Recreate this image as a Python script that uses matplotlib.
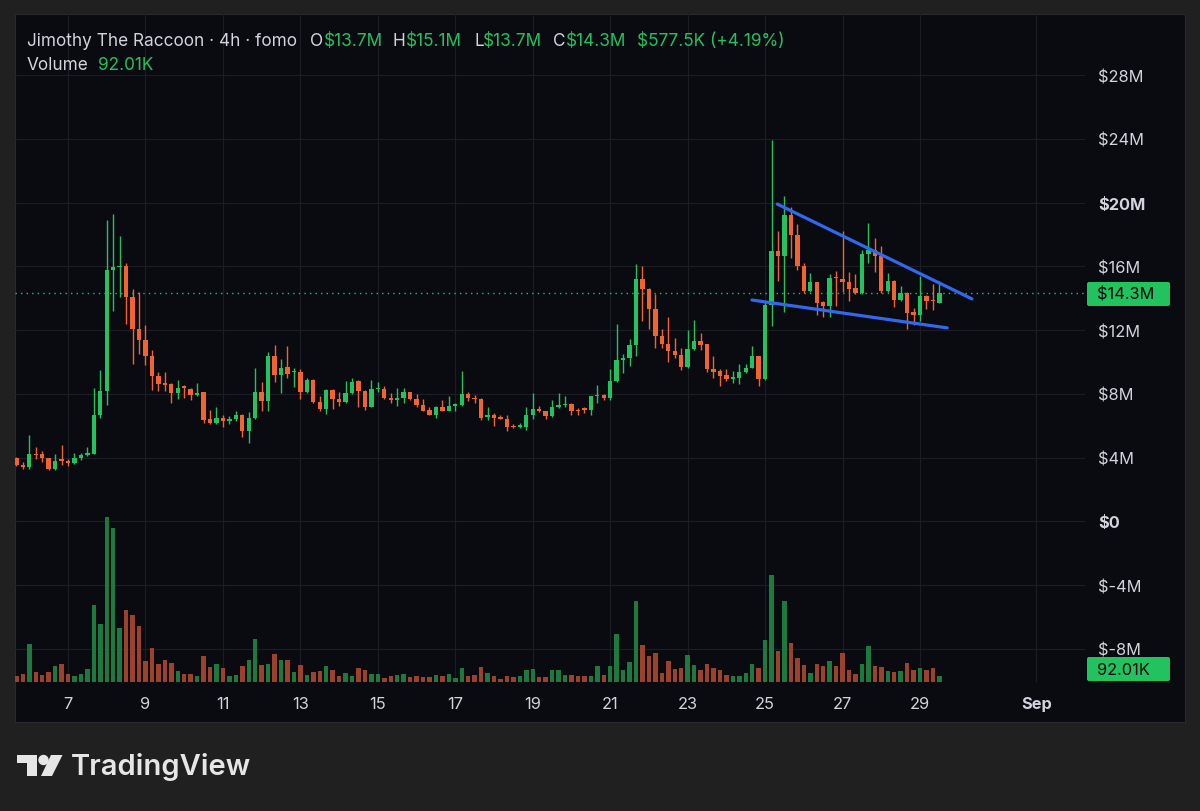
import numpy as np
import pandas as pd
import matplotlib
matplotlib.use('Agg')
import matplotlib.pyplot as plt
import matplotlib.dates as mdates
from matplotlib.patches import Rectangle, FancyBboxPatch, Circle, Polygon

plt.rcParams['font.family'] = ['Inter', 'DejaVu Sans']

# 4h candles, prices in $M
times = pd.date_range('2024-08-05 16:00', periods=144, freq='4h')
opens = [4.0, 3.55, 3.4, 4.25, 4.2, 3.95, 3.3, 3.9, 3.8, 3.65,
         3.95, 4.15, 4.25, 6.7, 8.2, 15.8, 15.95, 16.05, 14.1, 12.1,
         11.4, 10.4, 9.1, 8.7, 8.6, 8.05, 8.5, 8.3, 7.95, 8.1,
         6.4, 6.2, 6.5, 6.3, 6.4, 6.7, 5.65, 6.5, 8.15, 7.55,
         10.35, 9.2, 9.7, 9.35, 9.4, 8.1, 8.9, 7.5, 7.05, 8.25,
         7.7, 7.5, 8.05, 8.8, 8.2, 7.2, 8.3, 8.3, 7.75, 7.6,
         7.75, 8.1, 7.7, 7.3, 7.0, 6.7, 7.2, 6.95, 7.25, 7.3,
         8.0, 7.75, 7.7, 6.55, 6.65, 6.55, 6.45, 5.95, 5.9, 5.95,
         6.7, 7.05, 6.9, 6.6, 7.2, 7.3, 7.35, 7.0, 7.1, 7.0,
         7.85, 7.95, 7.75, 8.8, 10.1, 10.25, 11.05, 15.2, 14.6, 13.3,
         11.65, 11.15, 10.7, 10.45, 9.7, 10.8, 11.3, 11.1, 9.55, 9.45,
         9.2, 8.95, 9.0, 9.35, 9.65, 10.35, 8.95, 13.6, 16.95, 16.65,
         19.2, 17.95, 16.05, 14.45, 15.0, 13.75, 13.5, 15.35, 15.2, 15.05,
         14.65, 14.3, 16.8, 17.05, 16.65, 14.45, 15.1, 13.9, 14.35, 13.15,
         12.95, 14.15, 13.9, 13.7]
highs = [4.05, 3.7, 5.4, 4.7, 4.45, 4.0, 4.25, 4.8, 3.9, 4.3,
         4.3, 4.7, 8.35, 9.5, 18.9, 19.3, 17.9, 16.2, 14.6, 14.4,
         12.3, 10.75, 9.4, 9.4, 8.7, 8.9, 8.55, 8.35, 8.7, 8.15,
         7.0, 7.2, 6.7, 6.6, 6.9, 6.75, 6.85, 9.65, 8.75, 10.65,
         11.05, 10.2, 11.0, 9.65, 9.55, 9.0, 8.95, 7.85, 8.3, 8.3,
         8.1, 8.8, 9.0, 8.85, 8.25, 8.85, 8.75, 8.5, 8.05, 8.35,
         8.4, 8.15, 8.0, 7.65, 7.2, 7.25, 7.6, 7.9, 7.4, 9.45,
         8.1, 7.95, 7.75, 7.2, 6.8, 6.7, 6.65, 6.1, 6.2, 7.15,
         8.05, 7.25, 6.95, 7.6, 8.05, 7.85, 7.4, 7.1, 7.2, 7.9,
         8.55, 8.0, 9.55, 12.4, 10.5, 11.45, 16.15, 16.0, 14.65, 14.25,
         12.05, 12.85, 11.5, 10.9, 12.0, 12.65, 11.85, 11.15, 10.35, 9.55,
         9.55, 9.45, 9.9, 9.9, 11.0, 10.4, 13.75, 23.95, 18.2, 20.4,
         19.75, 18.65, 16.2, 15.6, 15.05, 13.85, 15.5, 15.7, 18.25, 15.65,
         15.5, 17.05, 18.75, 17.75, 17.25, 15.6, 15.15, 14.8, 14.4, 13.4,
         15.4, 14.2, 14.9, 15.1]
lows = [3.5, 3.3, 3.3, 3.9, 3.7, 3.25, 3.25, 3.55, 3.5, 3.6,
        3.85, 4.1, 4.2, 6.5, 7.3, 13.2, 14.1, 12.4, 9.9, 10.5,
        9.8, 8.25, 8.2, 8.2, 7.45, 7.7, 7.75, 7.6, 7.9, 6.2,
        6.1, 6.1, 5.95, 6.1, 6.3, 5.3, 4.95, 6.45, 6.9, 6.9,
        8.75, 8.05, 9.0, 8.45, 7.7, 8.05, 7.45, 6.95, 6.75, 7.05,
        7.25, 7.45, 8.0, 7.2, 7.0, 7.15, 8.15, 7.7, 7.4, 7.25,
        7.4, 7.6, 7.15, 6.9, 6.65, 6.5, 6.9, 6.9, 6.95, 7.25,
        7.55, 7.4, 6.35, 6.35, 6.0, 6.4, 5.65, 5.85, 5.85, 5.75,
        6.4, 6.85, 6.45, 6.55, 7.1, 7.15, 6.7, 6.7, 6.8, 6.65,
        7.4, 7.6, 7.6, 8.75, 9.3, 9.75, 10.35, 12.6, 12.1, 10.9,
        10.85, 10.0, 10.25, 9.5, 9.65, 10.75, 10.75, 9.4, 9.0, 8.5,
        8.8, 8.7, 8.65, 9.3, 9.6, 8.5, 8.9, 12.25, 15.1, 13.15,
        16.55, 15.75, 14.3, 14.4, 12.95, 12.85, 12.85, 13.5, 14.4, 13.8,
        14.25, 14.25, 16.2, 15.65, 14.35, 14.4, 13.45, 13.8, 12.05, 12.3,
        12.55, 13.3, 13.25, 13.7]
closes = [3.55, 3.4, 4.2, 4.15, 3.95, 3.3, 3.8, 3.8, 3.65, 3.95,
          4.15, 4.27, 6.7, 8.2, 15.8, 15.95, 16.05, 14.1, 12.1, 11.4,
          10.35, 9.1, 8.65, 8.55, 8.05, 8.4, 8.35, 7.95, 8.05, 6.35,
          6.2, 6.5, 6.3, 6.4, 6.7, 5.65, 6.5, 8.15, 7.55, 10.35,
          9.2, 9.6, 9.25, 9.45, 8.1, 8.9, 7.5, 7.05, 8.25, 7.65,
          7.5, 8.05, 8.75, 8.2, 7.2, 8.3, 8.35, 7.75, 7.6, 7.75,
          8.1, 7.7, 7.3, 6.95, 6.7, 7.2, 6.95, 7.25, 7.35, 8.0,
          7.75, 7.65, 6.5, 6.65, 6.5, 6.45, 5.9, 5.9, 6.05, 6.7,
          7.05, 6.9, 6.6, 7.2, 7.3, 7.35, 6.95, 6.95, 7.0, 7.85,
          7.95, 7.75, 8.8, 10.1, 10.25, 11.05, 15.2, 14.6, 13.3, 11.65,
          11.15, 10.7, 10.45, 9.7, 10.8, 11.3, 11.05, 9.55, 9.4, 9.1,
          8.95, 9.05, 9.35, 9.65, 10.35, 8.95, 13.6, 16.95, 16.65, 19.2,
          17.95, 16.05, 14.45, 15.0, 13.7, 13.5, 15.3, 15.25, 15.0, 14.6,
          14.3, 16.8, 17.05, 16.65, 14.45, 15.1, 13.9, 14.35, 13.1, 12.95,
          14.15, 13.8, 13.8, 14.3]
# volume in K
volumes = [97, 134, 607, 161, 108, 161, 253, 295, 134, 92,
           134, 204, 1235, 929, 2668, 2484, 869, 1164, 1084, 902,
           338, 547, 295, 349, 311, 177, 124, 124, 97, 414,
           242, 285, 230, 97, 118, 253, 349, 687, 269, 285,
           446, 349, 359, 161, 269, 118, 161, 172, 253, 198,
           92, 150, 97, 225, 188, 134, 134, 64, 92, 118,
           124, 80, 92, 80, 80, 108, 97, 134, 64, 230,
           92, 108, 242, 150, 97, 53, 97, 80, 92, 188,
           204, 80, 80, 188, 188, 108, 108, 92, 92, 97,
           253, 118, 253, 778, 198, 322, 1315, 591, 414, 467,
           145, 338, 214, 225, 430, 279, 188, 295, 230, 188,
           108, 92, 92, 150, 285, 230, 671, 1734, 494, 1315,
           633, 386, 269, 150, 285, 253, 333, 258, 467, 188,
           134, 285, 580, 253, 242, 172, 161, 172, 306, 188,
           230, 188, 230, 92.01]

# wedge trend lines
upper_t = ['2024-08-25 07:30', '2024-08-30 08:10']
upper_p = [19.91, 13.96]
lower_t = ['2024-08-24 15:50', '2024-08-29 16:50']
lower_p = [13.89, 12.14]

last_price = 14.3
price_ticks = [-8, -4, 0, 4, 8, 12, 16, 20, 24, 28]
price_labels = ['$-8M', '$-4M', '$0', '$4M', '$8M', '$12M', '$16M', '$20M', '$24M', '$28M']
date_ticks = ['2024-08-07', '2024-08-09', '2024-08-11', '2024-08-13', '2024-08-15', '2024-08-17',
              '2024-08-19', '2024-08-21', '2024-08-23', '2024-08-25', '2024-08-27', '2024-08-29',
              '2024-09-01']
date_labels = ['7', '9', '11', '13', '15', '17', '19', '21', '23', '25', '27', '29', 'Sep']

GREEN = '#22c35e'
RED = '#f2632f'
VGREEN = '#1d7a3f'
VRED = '#9c422a'
PANEL = '#0a0a11'
OUTER = '#202020'
TXT = '#d1d4dc'
GRID = '#1d1d26'

W, H = 1200, 812
fig = plt.figure(figsize=(12, 8.12), dpi=100, facecolor=OUTER)
fig.patches.append(Rectangle((15 / W, (H - 723) / H), 1170 / W, 708 / H, transform=fig.transFigure,
                             facecolor=PANEL, edgecolor='#2a2a2e', lw=0.8, zorder=-10))

ax = fig.add_axes([15 / W, (H - 683) / H, 1070 / W, 668 / H])
ax.set_facecolor('none')
axv = ax.twinx()

x = mdates.date2num(times)
o = np.array(opens); hi = np.array(highs); lo = np.array(lows); cl = np.array(closes)
up = cl >= o
cols = np.where(up, GREEN, RED)

ax.vlines(x, lo, hi, colors=cols, lw=1.0, zorder=3)
body = np.maximum(np.abs(cl - o), 0.07)
ax.bar(x, body, bottom=np.minimum(o, cl), width=0.112, color=cols, lw=0, zorder=4)

axv.bar(x, volumes, width=0.115, color=np.where(up, VGREEN, VRED), lw=0)
axv.set_ylim(0, 10780)
axv.set_axis_off()

ax.plot(mdates.date2num(pd.to_datetime(upper_t)), upper_p, color='#3168ee', lw=2.3,
        solid_capstyle='round', zorder=6)
ax.plot(mdates.date2num(pd.to_datetime(lower_t)), lower_p, color='#3168ee', lw=2.3,
        solid_capstyle='round', zorder=6)
ax.axhline(last_price, color=GREEN, lw=1.0, ls=(0, (1, 3)), zorder=5)

ax.set_xlim(mdates.date2num(pd.Timestamp('2024-08-05 15:09')),
            mdates.date2num(pd.Timestamp('2024-09-02 06:14')))
ax.set_ylim(-10.07, 31.83)

ax.yaxis.tick_right()
ax.set_yticks(price_ticks, price_labels)
ax.set_xticks(mdates.date2num(pd.to_datetime(date_ticks)), date_labels)
ax.tick_params(axis='y', length=0, pad=9.5, labelsize=11.8, labelcolor=TXT)
ax.tick_params(axis='x', length=0, pad=10, labelsize=11.8, labelcolor=TXT)
for lab in ax.get_yticklabels():
    if lab.get_text() in ('$20M', '$0'):
        lab.set_fontweight('bold')
ax.get_xticklabels()[-1].set_fontweight('bold')
ax.grid(True, color=GRID, lw=0.8)
ax.set_axisbelow(True)
for s in ax.spines.values():
    s.set_visible(False)

# overlay in pixel coordinates for header, labels and logo
ov = fig.add_axes([0, 0, 1, 1], zorder=10)
ov.set_xlim(0, W)
ov.set_ylim(H, 0)
ov.set_axis_off()

HF = 12.4
ov.text(27, 41, 'Jimothy The Raccoon · 4h · fomo', color=TXT, fontsize=HF, va='center')
for lx, lt, vx, vt in [(310, 'O', 324, '$13.7M'), (393, 'H', 406, '$15.1M'),
                       (474, 'L', 483, '$13.7M'), (553, 'C', 566, '$14.3M')]:
    ov.text(lx, 41, lt, color=TXT, fontsize=HF, va='center')
    ov.text(vx, 41, vt, color=GREEN, fontsize=HF, va='center')
ov.text(637, 41, '$577.5K (+4.19%)', color=GREEN, fontsize=HF, va='center')
ov.text(27, 66, 'Volume', color=TXT, fontsize=HF, va='center')
ov.text(98, 66, '92.01K', color=GREEN, fontsize=HF, va='center')

for by, txt in [(283, '$14.3M'), (658, '92.01K')]:
    ov.add_patch(FancyBboxPatch((1087, by), 83, 24, boxstyle='round,pad=0,rounding_size=2',
                                facecolor=GREEN, lw=0))
    ov.text(1097, by + 12.5, txt, color='#08080c', fontsize=11.8, va='center')

# TradingView logo
ov.add_patch(Polygon([(17, 756), (37, 756), (37, 777), (27, 777), (27, 764), (17, 764)],
                     closed=True, facecolor='#e6e6e6', lw=0))
ov.add_patch(Circle((43.5, 761), 5.2, facecolor='#e6e6e6', lw=0))
ov.add_patch(Polygon([(51, 756), (62.5, 756), (52, 777), (41, 777)], closed=True,
                     facecolor='#e6e6e6', lw=0))
ov.text(71, 767, 'TradingView', color='#e6e6e6', fontsize=21, fontweight='semibold', va='center')

fig.savefig('out.png', dpi=100, facecolor=OUTER)
